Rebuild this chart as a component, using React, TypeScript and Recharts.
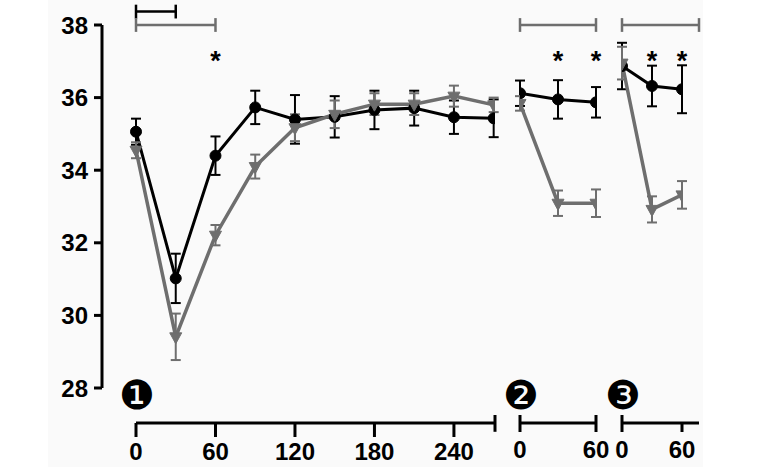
import { LineChart, Line, XAxis, YAxis, ErrorBar, ReferenceLine, ReferenceDot } from "recharts";

const BLACK = "#000000";
const GREY = "#6e6e6e";
const FONT = "'Liberation Sans', Arial, Helvetica, sans-serif";
const H = 467;

// time points (min) for each phase
const times1 = [0, 30, 60, 90, 120, 150, 180, 210, 240, 270];
const times2 = [0, 30, 60];
const times3 = [0, 30, 60];

// black circles (mean, sem)
const wt1 = [35.06, 31.02, 34.4, 35.73, 35.4, 35.47, 35.66, 35.71, 35.46, 35.43];
const wt1Err = [0.36, 0.68, 0.53, 0.46, 0.67, 0.57, 0.53, 0.48, 0.46, 0.52];
const wt2 = [36.12, 35.95, 35.87];
const wt2Err = [0.35, 0.53, 0.42];
const wt3 = [36.87, 36.32, 36.23];
const wt3Err = [0.64, 0.56, 0.66];

// grey triangles (mean, sem)
const ko1 = [34.55, 29.41, 32.21, 34.1, 35.17, 35.54, 35.82, 35.82, 36.04, 35.8];
const ko1Err = [0.22, 0.64, 0.28, 0.33, 0.37, 0.38, 0.3, 0.3, 0.29, 0.2];
const ko2 = [35.84, 33.09, 33.09];
const ko2Err = [0.2, 0.35, 0.38];
const ko3 = [36.95, 32.92, 33.32];
const ko3Err = [0.45, 0.36, 0.38];

const yTicks = [28, 30, 32, 34, 36, 38];
const xTicks1 = [0, 60, 120, 180, 240];
const xTicks2 = [0, 60];
const xTicks3 = [0, 60];

const phaseLabels = ["❶", "❷", "❸"];

// significance markers
const stars1 = [60];
const stars2 = [30, 60];
const stars3 = [30, 60];
const STAR_LEVEL = 37.2;
const brackets1 = [
  { from: 0, to: 30, level: 38.37, group: "wt" },
  { from: 0, to: 60, level: 38, group: "ko" },
];
const brackets2 = [{ from: 0, to: 60, level: 38, group: "ko" }];
const brackets3 = [{ from: 0, to: 77, level: 38, group: "ko" }];

type Row = { t: number; wt: number; wtErr: number; ko: number; koErr: number };

const toRows = (t: number[], wt: number[], wtErr: number[], ko: number[], koErr: number[]): Row[] =>
  t.map((v, i) => ({ t: v, wt: wt[i], wtErr: wtErr[i], ko: ko[i], koErr: koErr[i] }));

const TriangleDot = (props: any) => {
  const { cx, cy } = props;
  if (cx == null || cy == null) return <g />;
  return (
    <polygon
      points={`${cx - 6},${cy - 4} ${cx + 6},${cy - 4} ${cx},${cy + 7}`}
      fill={GREY}
      stroke={GREY}
      strokeWidth={1}
    />
  );
};

const tickStyle = { fontSize: 24, fontWeight: 700, fill: BLACK, fontFamily: FONT };

type PanelProps = {
  left: number;
  width: number;
  plotMargin: [number, number];
  axisMargin: [number, number];
  xDomain: [number, number];
  axisDomain: [number, number];
  rows: Row[];
  xTicks: number[];
  tickSize: number;
  tickMargin: number;
  brackets: { from: number; to: number; level: number; group: string }[];
  stars: number[];
  phase: string;
  showY?: boolean;
  capsUp: number[];
  capsBoth: number[];
};

function Panel(p: PanelProps) {
  const CAP = 0.19;
  return (
    <div style={{ position: "absolute", left: p.left, top: 0, width: p.width, height: H }}>
      <div style={{ position: "absolute", left: 0, top: 0 }}>
        <LineChart
          width={p.width}
          height={H}
          data={p.rows}
          margin={{ top: 25, bottom: 79, left: p.plotMargin[0], right: p.plotMargin[1] }}
        >
          <XAxis type="number" dataKey="t" domain={p.xDomain} allowDataOverflow hide />
          {p.showY ? (
            <YAxis
              type="number"
              domain={[28, 38]}
              ticks={yTicks}
              interval={0}
              width={102}
              tickSize={8}
              tickMargin={6}
              axisLine={{ stroke: BLACK, strokeWidth: 3 }}
              tickLine={{ stroke: BLACK, strokeWidth: 3 }}
              tick={tickStyle}
            />
          ) : (
            <YAxis type="number" domain={[28, 38]} hide />
          )}
          {p.brackets.map((b, i) => {
            const c = b.group === "wt" ? BLACK : GREY;
            return [
              <ReferenceLine key={`h${i}`} segment={[{ x: b.from, y: b.level }, { x: b.to, y: b.level }]} stroke={c} strokeWidth={2.5} ifOverflow="visible" />,
              <ReferenceLine key={`a${i}`} segment={[{ x: b.from, y: b.level - CAP }, { x: b.from, y: b.level + CAP }]} stroke={c} strokeWidth={2.5} ifOverflow="visible" />,
              <ReferenceLine key={`b${i}`} segment={[{ x: b.to, y: b.level - CAP }, { x: b.to, y: b.level + CAP }]} stroke={c} strokeWidth={2.5} ifOverflow="visible" />,
            ];
          })}
          {p.stars.map((s) => (
            <ReferenceDot
              key={`s${s}`}
              x={s}
              y={STAR_LEVEL}
              r={0}
              ifOverflow="visible"
              shape={(sp: any) => (
                <text x={sp.cx} y={sp.cy + 16} textAnchor="middle" fontSize={27} fontWeight={700} fontFamily={FONT} fill={BLACK}>
                  *
                </text>
              )}
            />
          ))}
          <ReferenceDot
            x={0}
            y={28}
            r={0}
            ifOverflow="visible"
            shape={(sp: any) => (
              <text x={sp.cx + 1} y={sp.cy + 7} textAnchor="middle" dominantBaseline="central" fontSize={40} fontFamily="'DejaVu Sans'" fill={BLACK}>
                {p.phase}
              </text>
            )}
          />
          <Line
            dataKey="wt"
            stroke={BLACK}
            strokeWidth={3}
            dot={{ r: 5.5, fill: BLACK, stroke: BLACK, strokeWidth: 1 }}
            isAnimationActive={false}
          >
            <ErrorBar dataKey="wtErr" width={5} stroke={BLACK} strokeWidth={2} direction="y" />
          </Line>
          <Line
            dataKey="ko"
            stroke={GREY}
            strokeWidth={3.5}
            dot={(dp: any) => <TriangleDot key={`d${dp.index}`} {...dp} />}
            isAnimationActive={false}
          >
            <ErrorBar dataKey="koErr" width={5} stroke={GREY} strokeWidth={2} direction="y" />
          </Line>
        </LineChart>
      </div>
      <div style={{ position: "absolute", left: 0, top: 0 }}>
        <LineChart
          width={p.width}
          height={H}
          data={p.rows}
          margin={{ top: 415, bottom: 0, left: p.axisMargin[0], right: p.axisMargin[1] }}
        >
          <XAxis
            type="number"
            dataKey="t"
            domain={p.axisDomain}
            allowDataOverflow
            ticks={p.xTicks}
            interval={0}
            height={44}
            tickSize={p.tickSize}
            tickMargin={p.tickMargin}
            axisLine={{ stroke: BLACK, strokeWidth: 3 }}
            tickLine={{ stroke: BLACK, strokeWidth: 3 }}
            tick={tickStyle}
          />
          <YAxis type="number" domain={[0, 1]} allowDataOverflow hide />
          {p.capsUp.map((x) => (
            <ReferenceLine key={`u${x}`} segment={[{ x, y: 0 }, { x, y: 1 }]} stroke={BLACK} strokeWidth={3} ifOverflow="visible" />
          ))}
          {p.capsBoth.map((x) => (
            <ReferenceLine key={`c${x}`} segment={[{ x, y: -1.1 }, { x, y: 1 }]} stroke={BLACK} strokeWidth={3} ifOverflow="visible" />
          ))}
        </LineChart>
      </div>
    </div>
  );
}

export default function App() {
  const rows1 = toRows(times1, wt1, wt1Err, ko1, ko1Err);
  const rows2 = toRows(times2, wt2, wt2Err, ko2, ko2Err);
  const rows3 = toRows(times3, wt3, wt3Err, ko3, ko3Err);
  // panel 1: plot 102..495 px, x=0 sits at 136 px
  const pad1 = (34 * 271) / 359;

  return (
    <div style={{ position: "absolute", left: 0, top: 0, width: 760, height: H, background: "#fff", fontFamily: FONT }}>
      <div style={{ position: "absolute", left: 48, top: 0, width: 655, height: H, background: "#fafafa" }} />
      <Panel
        left={0}
        width={510}
        plotMargin={[0, 15]}
        axisMargin={[136, 15]}
        xDomain={[-pad1, 271]}
        axisDomain={[0, 271]}
        rows={rows1}
        xTicks={xTicks1}
        tickSize={14}
        tickMargin={6}
        brackets={brackets1}
        stars={stars1}
        phase={phaseLabels[0]}
        showY
        capsUp={[]}
        capsBoth={[271]}
      />
      <Panel
        left={500}
        width={110}
        plotMargin={[20, 14]}
        axisMargin={[20, 14]}
        xDomain={[0, 60]}
        axisDomain={[0, 60]}
        rows={rows2}
        xTicks={xTicks2}
        tickSize={9}
        tickMargin={9}
        brackets={brackets2}
        stars={stars2}
        phase={phaseLabels[1]}
        capsUp={[0, 60]}
        capsBoth={[]}
      />
      <Panel
        left={600}
        width={120}
        plotMargin={[22, 38]}
        axisMargin={[22, 21]}
        xDomain={[0, 60]}
        axisDomain={[0, 77]}
        rows={rows3}
        xTicks={xTicks3}
        tickSize={9}
        tickMargin={9}
        brackets={brackets3}
        stars={stars3}
        phase={phaseLabels[2]}
        capsUp={[0]}
        capsBoth={[]}
      />
    </div>
  );
}
